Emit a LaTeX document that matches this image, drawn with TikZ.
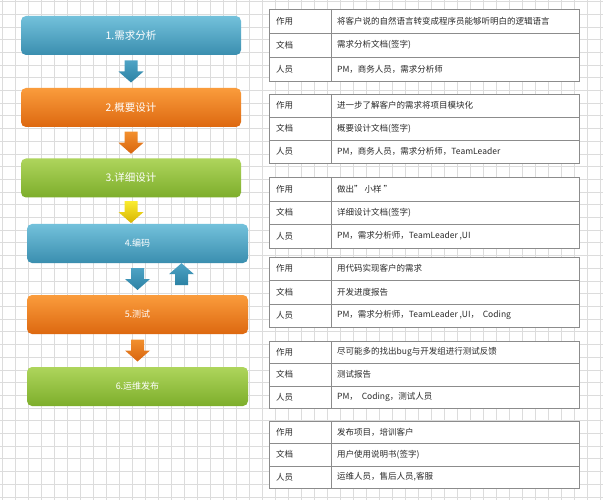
\documentclass[tikz,border=0pt]{standalone}
\usepackage{fontspec}
\setmainfont{Noto Sans CJK SC}
\usetikzlibrary{calc}
\definecolor{gridc}{HTML}{DCDCDC}
\definecolor{blueT}{HTML}{73C1DB}
\definecolor{blueB}{HTML}{3A8EAF}
\definecolor{oranT}{HTML}{FA9C3C}
\definecolor{oranB}{HTML}{DD6810}
\definecolor{greenT}{HTML}{AED55C}
\definecolor{greenB}{HTML}{7DAE2B}
\definecolor{yelT}{HTML}{FAEC30}
\definecolor{yelB}{HTML}{D8B400}
\definecolor{arbT}{HTML}{4EA3C5}
\definecolor{arbB}{HTML}{2C82A4}
\definecolor{aroT}{HTML}{F2902E}
\definecolor{aroB}{HTML}{D8640E}
\definecolor{tabl}{HTML}{8C8C8C}
\definecolor{txt}{HTML}{2A2A2A}
\tikzset{
  gridline/.style={draw=gridc, line width=0.6pt},
  box/.style={rounded corners=5pt, minimum width=220pt, minimum height=39pt, inner sep=0pt, text=white},
  bigtxt/.style={font=\fontsize{10.5}{12}\selectfont},
  smalltxt/.style={font=\fontsize{9}{11}\selectfont},
  bluebox/.style={top color=blueT, bottom color=blueB},
  orangebox/.style={top color=oranT, bottom color=oranB},
  greenbox/.style={top color=greenT, bottom color=greenB},
  tabframe/.style={draw=tabl, fill=white, line width=0.8pt, minimum width=310pt, inner sep=0pt, anchor=north west},
  tabline/.style={draw=tabl, line width=0.8pt},
  tabtxt/.style={anchor=west, inner sep=0pt, text=txt, font=\fontsize{8.5}{10}\selectfont},
}
\newcommand\blkdown[3]{\shade[top color=#2, bottom color=#3] (#1) ++(-6.5,-11) -- ++(13,0) -- ++(0,11) -- ++(6,0) -- ++(-12.5,11) -- ++(-12.5,-11) -- ++(6,0) -- cycle;}
\newcommand\blkup[3]{\shade[top color=#2, bottom color=#3] (#1) ++(-6.5,11) -- ++(13,0) -- ++(0,-11) -- ++(6,0) -- ++(-12.5,-11) -- ++(-12.5,11) -- ++(6,0) -- cycle;}
\newcommand\infotab[6]{%
  \node[tabframe, minimum height={#3-#2}] (#1) at (269,#2) {};
  \draw[tabline] ($(#1.north west)!1/3!(#1.south west)$) -- ($(#1.north east)!1/3!(#1.south east)$);
  \draw[tabline] ($(#1.north west)!2/3!(#1.south west)$) -- ($(#1.north east)!2/3!(#1.south east)$);
  \draw[tabline] (331,#2) -- (331,#3);
  \node[tabtxt] (#1-l1) at (276,{#2+(#3-#2)/6}) {作用};
  \node[tabtxt] (#1-l2) at (276,{#2+(#3-#2)/2}) {文档};
  \node[tabtxt] (#1-l3) at (276,{#2+5*(#3-#2)/6}) {人员};
  \node[tabtxt] (#1-v1) at (337,{#2+(#3-#2)/6}) {#4};
  \node[tabtxt] (#1-v2) at (337,{#2+(#3-#2)/2}) {#5};
  \node[tabtxt] (#1-v3) at (337,{#2+5*(#3-#2)/6}) {#6};
}
\begin{document}
\begin{tikzpicture}[x=1pt, y=-1pt]
\useasboundingbox (0,0) rectangle (603,500);
\fill[white] (0,0) rectangle (603,500);
% grid
\foreach \gx in {2,15,...,600} \draw[gridline] (\gx,0) -- (\gx,500);
\foreach \gy in {1.5,14.2,...,500} \draw[gridline] (0,\gy) -- (603,\gy);
% process boxes
\node[box, bigtxt, bluebox]   (b1) at (131,35.5)  {1.需求分析};
\node[box, bigtxt, orangebox] (b2) at (131,107.5) {2.概要设计};
\node[box, bigtxt, greenbox]  (b3) at (131,178)   {3.详细设计};
\node[box, smalltxt, bluebox, minimum width=221pt]   (b4) at (137.5,243.5) {4.编码};
\node[box, smalltxt, orangebox, minimum width=221pt] (b5) at (137.5,314.5) {5.测试};
\node[box, smalltxt, greenbox, minimum width=221pt]  (b6) at (137.5,386.5) {6.运维发布};
% connectors (block arrows)
\coordinate (a1) at ($(b1.south)!0.5!(b2.north)$);
\coordinate (a2) at ($(b2.south)!0.5!(b3.north)$);
\coordinate (a3) at ($(b3.south)!0.55!(b3.south |- b4.north)$);
\coordinate (a4) at ($(b4.south)!0.5!(b5.north)$);
\coordinate (a5) at ($(b5.south)!0.5!(b6.north)$);
\coordinate (au) at ($(b4.south)+(44,11)$);
\blkdown{a1}{arbT}{arbB}
\blkdown{a2}{aroT}{aroB}
\blkdown{a3}{yelT}{yelB}
\blkdown{a4}{arbT}{arbB}
\blkup{au}{arbT}{arbB}
\blkdown{a5}{aroT}{aroB}
% tables
\infotab{t1}{9}{81}{将客户说的自然语言转变成程序员能够听明白的逻辑语言}{需求分析文档(签字)}{PM，商务人员，需求分析师}
\infotab{t2}{94}{163}{进一步了解客户的需求将项目模块化}{概要设计文档(签字)}{PM，商务人员，需求分析师，TeamLeader}
\infotab{t3}{177}{248}{做出" 小样 "}{详细设计文档(签字)}{PM，需求分析师，TeamLeader ,UI}
\infotab{t4}{257}{327}{用代码实现客户的需求}{开发进度报告}{PM，需求分析师，TeamLeader ,UI，\ \ Coding}
\infotab{t5}{341}{408}{尽可能多的找出bug与开发组进行测试反馈}{测试报告}{PM，\ \ Coding，测试人员}
\infotab{t6}{421}{488}{发布项目，培训客户}{用户使用说明书(签字)}{运维人员，售后人员,客服}
\end{tikzpicture}
\end{document}
